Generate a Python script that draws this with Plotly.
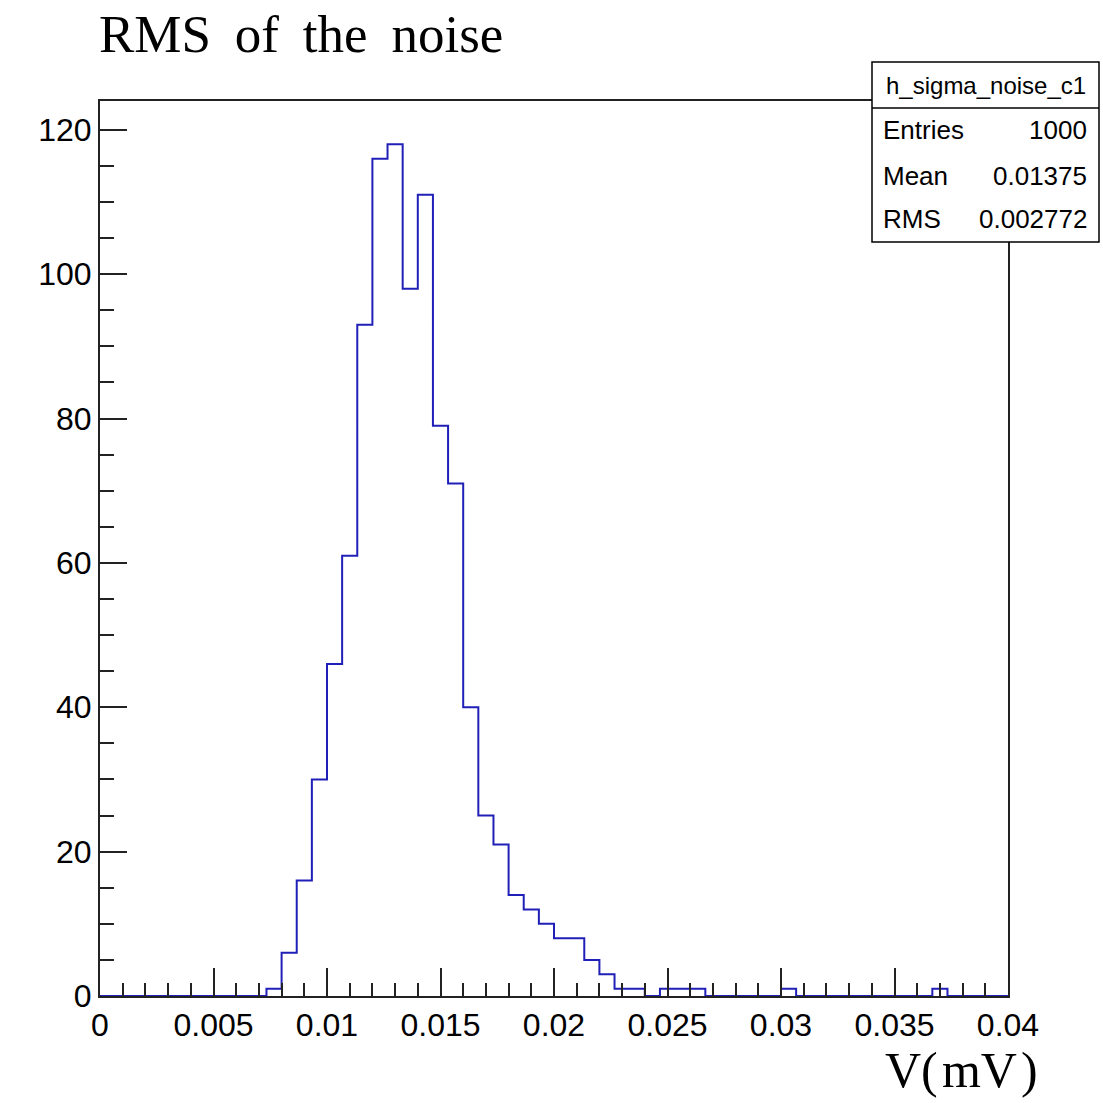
import numpy as np
import plotly.graph_objects as go

# Histogram h_sigma_noise_c1: 60 bins on [0, 0.04]
x_min, x_max, n_bins = 0.0, 0.04, 60
counts = [
    0, 0, 0, 0, 0, 0, 0, 0, 0, 0,
    0, 1, 6, 16, 30, 46, 61, 93, 116, 118,
    98, 111, 79, 71, 40, 25, 21, 14, 12, 10,
    8, 8, 5, 3, 1, 1, 0, 1, 1, 1,
    0, 0, 0, 0, 0, 1, 0, 0, 0, 0,
    0, 0, 0, 0, 0, 1, 0, 0, 0, 0,
]
stats_name = "h_sigma_noise_c1"
stats_labels = ["Entries", "Mean", "RMS"]
stats_values = ["1000", "0.01375", "0.002772"]
title_text = "RMS\u00a0\u2009of\u00a0\u2009the\u00a0\u2009noise"
xaxis_title = "V(\u200amV\u200a)"

edges = np.linspace(x_min, x_max, n_bins + 1)
step_y = list(counts) + [counts[-1]]

W = H = 1103
ML, MR, MT, MB = 100, 95, 101, 107
PW, PH = W - ML - MR, H - MT - MB


def px(x):
    return (x - ML) / PW


def py(y):
    return (H - MB - y) / PH


fig = go.Figure()
fig.add_trace(go.Scatter(
    x=edges, y=step_y, mode="lines",
    line=dict(color="#2020b8", width=2, shape="hv"),
    hoverinfo="skip", showlegend=False,
))

axis_font = dict(family="Liberation Sans, Arial, sans-serif", size=32, color="black")

fig.update_layout(
    width=W, height=H,
    margin=dict(l=ML, r=MR, t=MT, b=MB),
    paper_bgcolor="white", plot_bgcolor="white",
    showlegend=False,
    xaxis=dict(
        range=[x_min, x_max], showgrid=False, zeroline=False,
        showline=True, linecolor="#222", linewidth=2, mirror=True,
        ticks="inside", ticklen=28, tickwidth=2, tickcolor="#222",
        dtick=0.005, tick0=0, tickfont=axis_font,
        minor=dict(ticks="inside", ticklen=13, tickwidth=2, tickcolor="#222", dtick=0.001),
    ),
    yaxis=dict(
        range=[0, 124], showgrid=False, zeroline=False,
        showline=True, linecolor="#222", linewidth=2, mirror=True,
        ticks="inside", ticklen=27, tickwidth=2, tickcolor="#222",
        dtick=20, tick0=0, tickfont=axis_font,
        minor=dict(ticks="inside", ticklen=14, tickwidth=2, tickcolor="#222", dtick=5),
    ),
)

serif = dict(family="Liberation Serif, Times New Roman, serif", size=53, color="black")
serif_small = dict(family="Liberation Serif, Times New Roman, serif", size=50, color="black")

annotations = [
    dict(text=title_text, xref="paper", yref="paper", x=px(97), y=py(34),
         xanchor="left", yanchor="middle", showarrow=False, font=serif),
    dict(text=xaxis_title, xref="paper", yref="paper", x=px(1040), y=py(1070),
         xanchor="right", yanchor="middle", showarrow=False, font=serif_small),
]

# Statistics box
box_l, box_r, box_t, box_b, head_b = 872, 1099, 62, 242, 108
shapes = [
    dict(type="rect", xref="paper", yref="paper",
         x0=px(box_l), x1=px(box_r), y0=py(box_b), y1=py(box_t),
         line=dict(color="black", width=1.5), fillcolor="white", layer="above"),
    dict(type="line", xref="paper", yref="paper",
         x0=px(box_l), x1=px(box_r), y0=py(head_b), y1=py(head_b),
         line=dict(color="black", width=1.5), layer="above"),
]
stats_font = dict(family="Liberation Sans, Arial, sans-serif", size=26, color="black")
annotations.append(dict(text=stats_name, xref="paper", yref="paper",
                        x=px((box_l + box_r) / 2), y=py(85), xanchor="center", yanchor="middle",
                        showarrow=False, font=dict(stats_font, size=24)))
row_y = [130, 176, 219]
for lab, val, ry in zip(stats_labels, stats_values, row_y):
    annotations.append(dict(text=lab, xref="paper", yref="paper", x=px(881), y=py(ry),
                            xanchor="left", yanchor="middle", showarrow=False, font=stats_font))
    annotations.append(dict(text=val, xref="paper", yref="paper", x=px(1089), y=py(ry),
                            xanchor="right", yanchor="middle", showarrow=False, font=stats_font))

fig.update_layout(annotations=annotations, shapes=shapes)
fig.write_html("out.html")
